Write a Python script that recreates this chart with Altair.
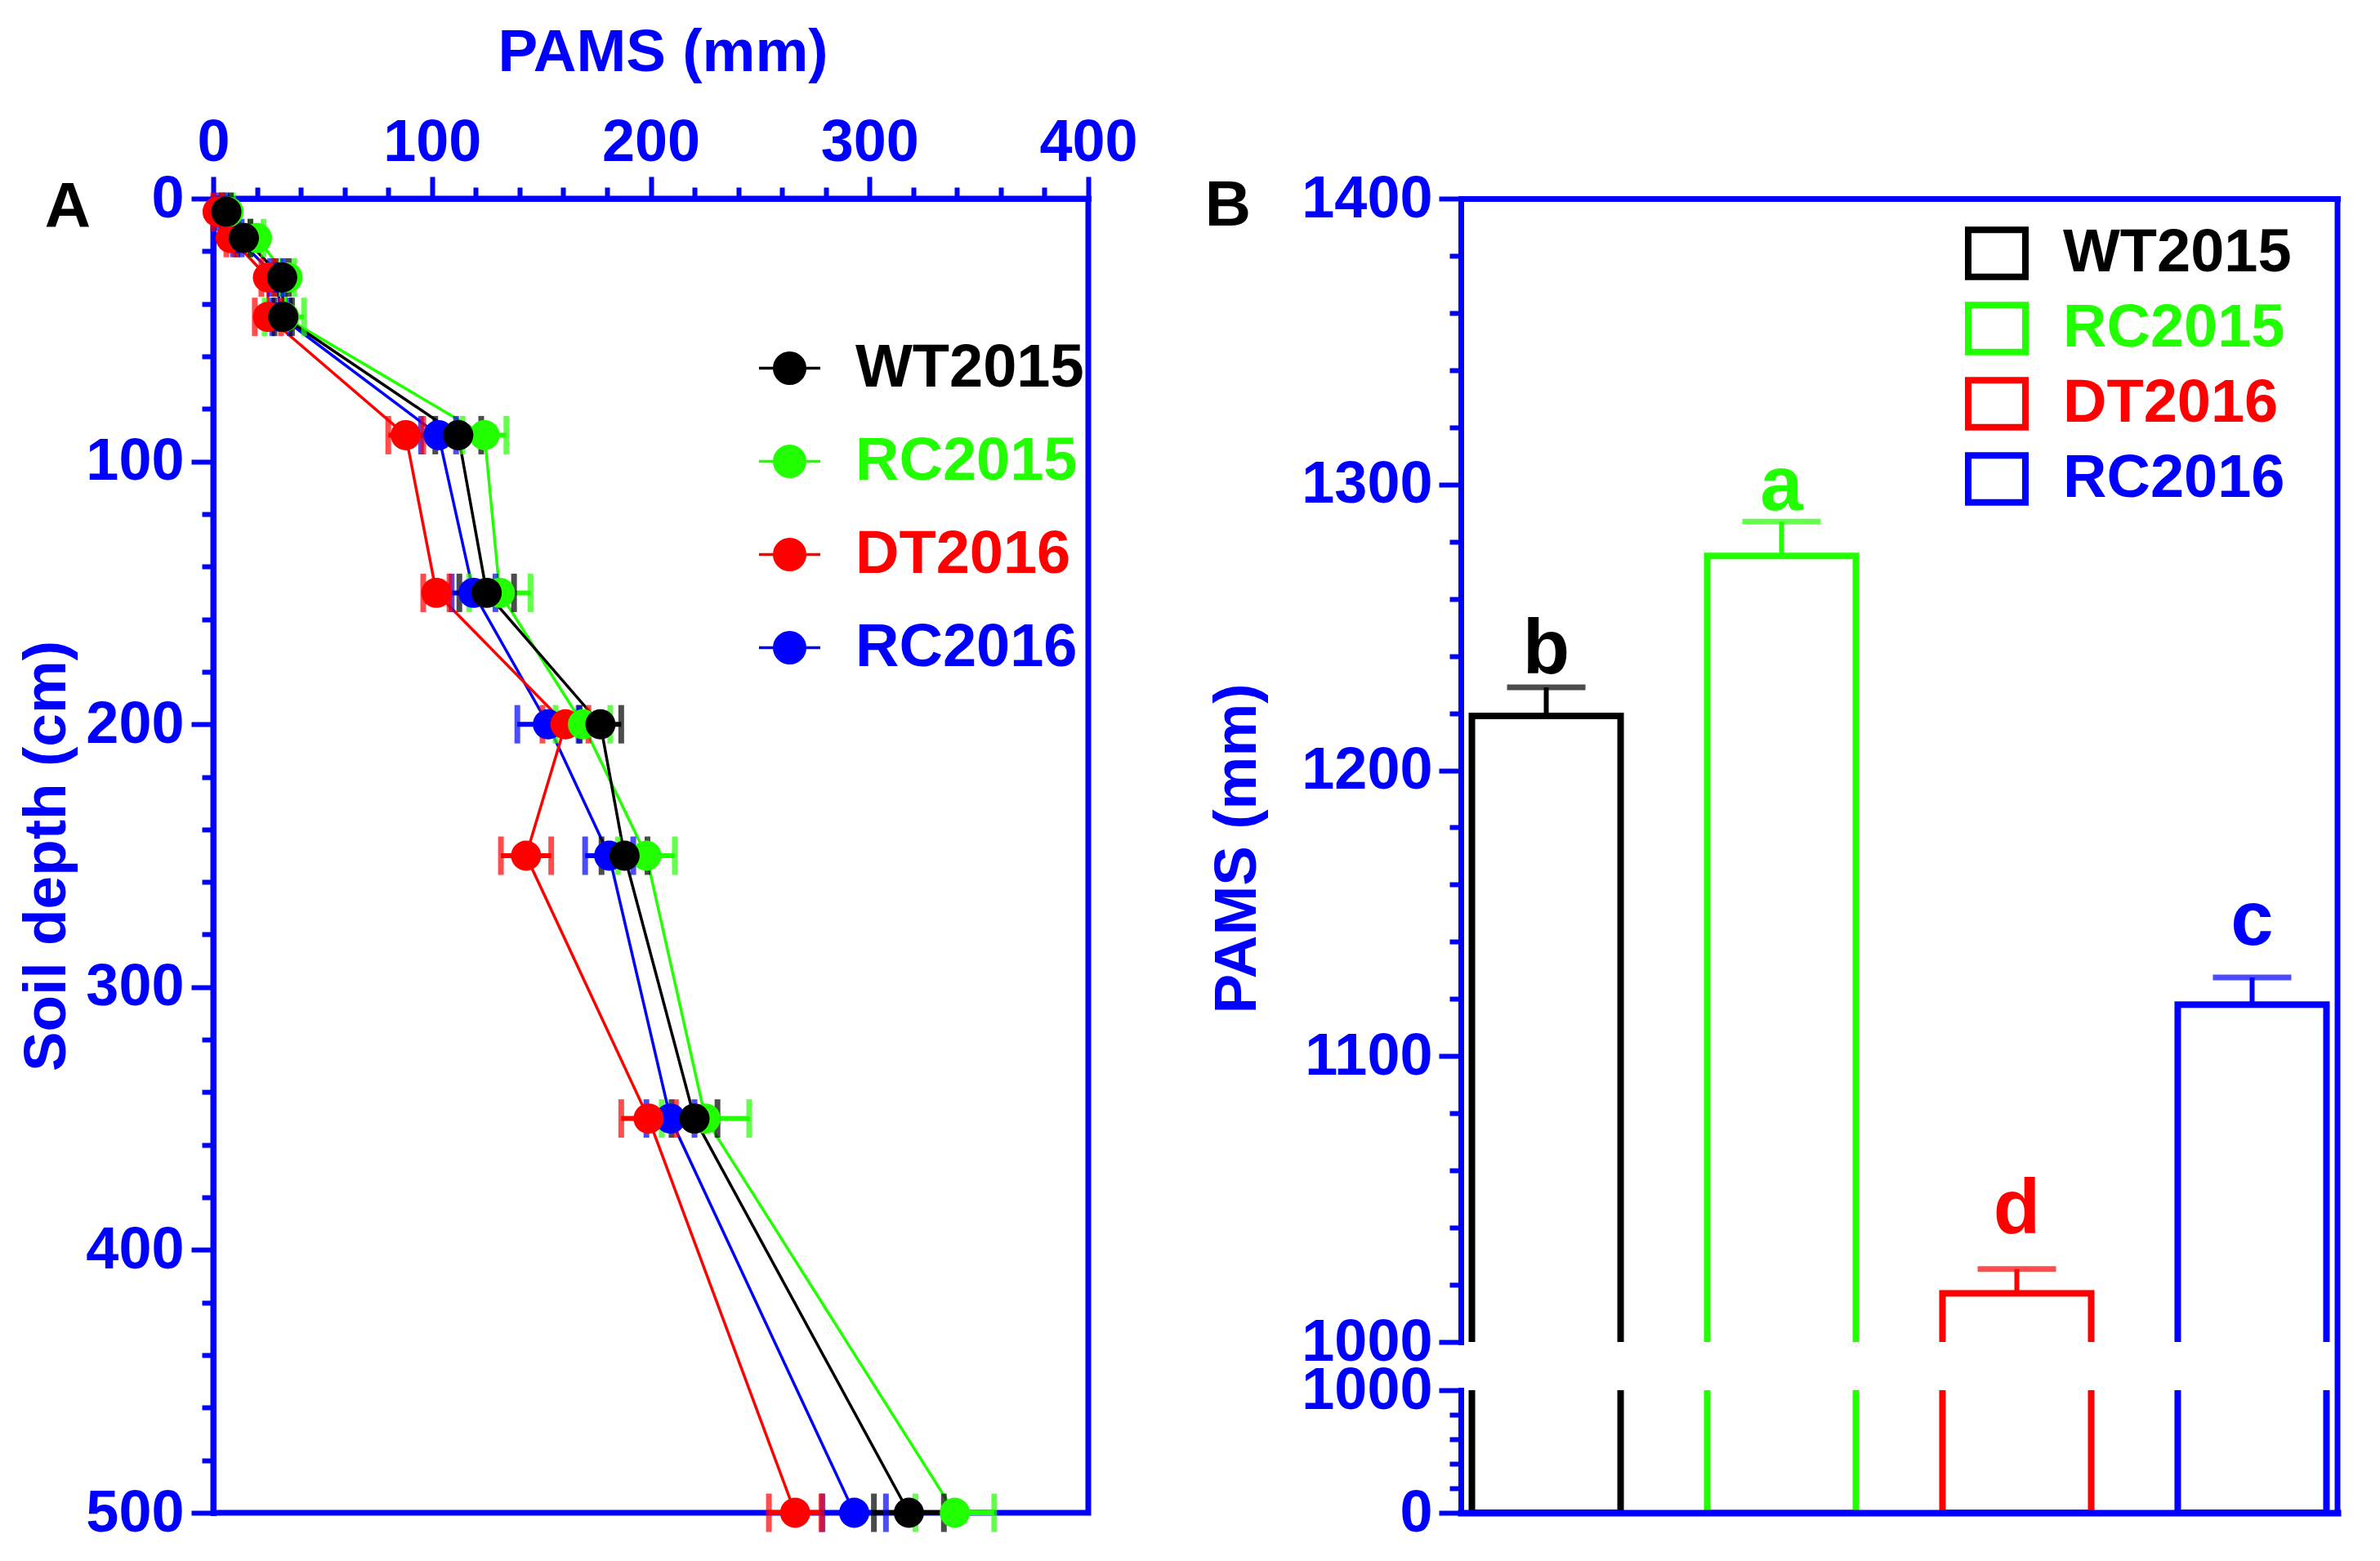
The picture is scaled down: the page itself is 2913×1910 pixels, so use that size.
import altair as alt
import pandas as pd

# ---------------- data ----------------
series = ["WT2015", "RC2015", "DT2016", "RC2016"]
colors = ["#000000", "#22FF00", "#FF0000", "#0000FF"]

depth = [5, 15, 30, 45, 90, 150, 200, 250, 350, 500]
wt2015 = [6, 14, 31.5, 32, 112, 125, 177, 188, 220, 318]
wt2015_err = [2, 3, 3, 4, 10.5, 12.5, 9.5, 10.5, 10.5, 16]
rc2015 = [7, 20, 34, 32.5, 124, 131, 169, 198, 225, 339]
rc2015_err = [2, 3, 3, 9, 10, 14, 12.5, 13, 20, 18]
dt2016 = [2, 8, 25, 25, 88, 102, 161, 143, 199, 266]
dt2016_err = [2, 2, 3, 6, 8, 6, 10.5, 11.5, 12.5, 12]
rc2016 = [4, 11, 29, 31, 103, 119, 153, 181, 209, 293]
rc2016_err = [2, 2, 3, 4, 8, 10, 14, 11, 11, 14.5]

bar_mean = [1219, 1275, 1017, 1118]
bar_err = [10, 12, 8.5, 9.5]
bar_letters = ["b", "a", "d", "c"]
letter_y = [1234, 1291, 1038, 1139]

panel_labels = ["A", "B"]

# broken axis of panel B
upper_domain = [1000, 1400]
lower_domain = [0, 1000]

# ---------------- style ----------------
BLUE = "#0000FF"
FONT = "Liberation Sans"

# ---------------- tables ----------------
profiles = {
    "WT2015": (wt2015, wt2015_err),
    "RC2015": (rc2015, rc2015_err),
    "DT2016": (dt2016, dt2016_err),
    "RC2016": (rc2016, rc2016_err),
}
draw_order = ["RC2016", "DT2016", "RC2015", "WT2015"]
rows = []
for name in draw_order:
    vals, errs = profiles[name]
    for d, v, e in zip(depth, vals, errs):
        rows.append({"series": name, "depth": d, "pams": v, "lo": v - e, "hi": v + e})
prof = pd.DataFrame(rows)
caps = prof.melt(id_vars=["series", "depth"], value_vars=["lo", "hi"], value_name="cap")

bars = pd.DataFrame({
    "series": series,
    "hex": colors,
    "mean": bar_mean,
    "top": [m + e for m, e in zip(bar_mean, bar_err)],
    "letter": bar_letters,
    "letter_y": letter_y,
})

color_expr = "".join(
    f"datum.label === '{s}' ? '{c}' : " for s, c in zip(series[:-1], colors[:-1])
) + f"'{colors[-1]}'"


def cscale():
    return alt.Scale(domain=series, range=colors)


# ---------------- panel A ----------------
WA, HA = 1071, 1608


def cond_size(test):
    return {"condition": {"test": test, "value": 27}, "value": 14}


xA_axis = alt.Axis(
    orient="top", title="PAMS (mm)", values=list(range(0, 401, 20)), format="d",
    labelExpr="datum.value % 100 === 0 ? datum.label : ''",
    tickSize=cond_size("datum.value % 100 === 0"),
    labelPadding=5, titlePadding=37, titleX=550,
    labelFlush=False, labelOverlap=False,
)
yA_axis = alt.Axis(
    orient="left", title="Soil depth (cm)", values=list(range(0, 501, 20)), format="d",
    labelExpr="datum.value % 100 === 0 ? datum.label : ''",
    tickSize=cond_size("datum.value % 100 === 0"),
    labelPadding=9, titlePadding=10,
    labelFlush=False, labelOverlap=False,
)
xA_scale = alt.Scale(domain=[0, 400], nice=False)
yA = alt.Y("depth:Q", scale=alt.Scale(domain=[0, 500], reverse=True, nice=False), axis=yA_axis)

PATH_A = "M-1,0L1,0M-0.5,0A0.5,0.5,0,1,1,0.5,0A0.5,0.5,0,1,1,-0.5,0Z"
legA = alt.Legend(
    title=None, orient="none", legendX=666, legendY=168,
    symbolType=PATH_A, symbolSize=5625, symbolStrokeWidth=3.5, symbolOpacity=1,
    labelColor=alt.ExprRef(color_expr), labelFont=FONT, labelFontSize=74,
    labelFontWeight="bold", labelOffset=41, rowPadding=37, padding=0, labelLimit=600,
)
colA = alt.Color("series:N", scale=cscale(), legend=legA)

baseA = alt.Chart(prof)
linesA = baseA.mark_line(strokeWidth=3.5).encode(
    x=alt.X("pams:Q", scale=xA_scale, axis=xA_axis),
    y=yA,
    color=colA,
    detail="series:N",
    order="depth:Q",
)
errA = baseA.mark_rule(strokeWidth=6).encode(
    x=alt.X("lo:Q", scale=xA_scale, axis=xA_axis),
    x2="hi:Q",
    y=yA,
    color=colA,
)
capsA = alt.Chart(caps).mark_tick(orient="vertical", size=47, thickness=7).encode(
    x=alt.X("cap:Q", scale=xA_scale, axis=xA_axis),
    y=yA,
    color=colA,
)
pointsA = baseA.mark_circle(size=1365, opacity=1).encode(
    x=alt.X("pams:Q", scale=xA_scale, axis=xA_axis),
    y=yA,
    color=colA,
)
labelA = alt.Chart(pd.DataFrame({"label": panel_labels[:1]})).mark_text(
    font=FONT, fontSize=78, fontWeight="bold", color="black", align="center", baseline="alphabetic"
).encode(x=alt.value(-178), y=alt.value(35), text="label:N")

panelA = alt.layer(linesA, errA, capsA, pointsA, labelA).properties(
    width=WA, height=HA, view=alt.ViewBackground(stroke=BLUE, strokeWidth=7)
)

# ---------------- panel B ----------------
WB, HB_UP, HB_LO, GAP = 1073, 1399, 150, 59

xB_scale = alt.Scale(domain=series, paddingInner=0.368, paddingOuter=0.047)
xB_top = alt.X("series:N", scale=xB_scale, sort=series,
               axis=alt.Axis(orient="top", title=None, labels=False, ticks=False))
xB_bot = alt.X("series:N", scale=xB_scale, sort=series,
               axis=alt.Axis(orient="bottom", title=None, labels=False, ticks=False,
                             zindex=1, domainWidth=8))

yB_up_axis = alt.Axis(
    orient="left", title="PAMS (mm)", values=list(range(1000, 1401, 20)), format="d",
    labelExpr="datum.value % 100 === 0 ? datum.label : ''",
    tickSize=cond_size("datum.value % 100 === 0"),
    labelPadding=8, titlePadding=41, titleY=795,
    labelFlush=False, labelOverlap=False,
)
yB_lo_axis = alt.Axis(
    orient="left", title=None, values=list(range(0, 1001, 200)), format="d",
    labelExpr="datum.value % 1000 === 0 ? datum.label : ''",
    tickSize=cond_size("datum.value % 1000 === 0"),
    labelPadding=8, labelFlush=False, labelOverlap=False,
)
yB_up_scale = alt.Scale(domain=upper_domain, nice=False, zero=False)
yB_lo_scale = alt.Scale(domain=lower_domain, nice=False)

PATH_B = "M-1,-0.82L1,-0.82L1,0.82L-1,0.82Z"
legB = alt.Legend(
    title=None, orient="none", legendX=617, legendY=28,
    symbolType=PATH_B, symbolSize=4900, symbolStrokeWidth=8, symbolOpacity=1,
    symbolFillColor="white",
    labelColor=alt.ExprRef(color_expr), labelFont=FONT, labelFontSize=74,
    labelFontWeight="bold", labelOffset=42, rowPadding=2, padding=0, labelLimit=600,
)
colB = alt.Color("series:N", scale=cscale(), legend=legB)
fillB = alt.Fill("hex:N", scale=None)

baseB = alt.Chart(bars)
border = alt.Chart(pd.DataFrame({"k": [0]}))

barsUp = baseB.mark_bar(filled=False, strokeWidth=8, clip=True).encode(
    x=xB_top,
    y=alt.Y("mean:Q", scale=yB_up_scale, axis=yB_up_axis),
    y2=alt.datum(lower_domain[0]),
    color=colB,
)
stemUp = baseB.mark_rule(strokeWidth=6).encode(
    x=xB_top,
    y=alt.Y("mean:Q", scale=yB_up_scale, axis=yB_up_axis),
    y2="top:Q",
    color=colB,
)
capUp = baseB.mark_tick(orient="horizontal", size=96, thickness=7).encode(
    x=xB_top,
    y=alt.Y("top:Q", scale=yB_up_scale, axis=yB_up_axis),
    fill=fillB,
)
lettersUp = baseB.mark_text(
    font=FONT, fontSize=94, fontWeight="bold", align="center", baseline="alphabetic"
).encode(
    x=xB_top,
    y=alt.Y("letter_y:Q", scale=yB_up_scale, axis=yB_up_axis),
    text="letter:N",
    fill=fillB,
)
rightUp = border.mark_rule(color=BLUE, strokeWidth=7).encode(
    x=alt.value(WB), y=alt.value(0), y2=alt.value(HB_UP + GAP)
)
labelB = alt.Chart(pd.DataFrame({"label": panel_labels[1:]})).mark_text(
    font=FONT, fontSize=78, fontWeight="bold", color="black", align="center", baseline="alphabetic"
).encode(x=alt.value(-285), y=alt.value(33), text="label:N")

upperB = alt.layer(barsUp, stemUp, capUp, lettersUp, rightUp, labelB).properties(
    width=WB, height=HB_UP
)

# lower segment of the broken axis: the bar sides continue up through the break (clipped)
barsLo = baseB.mark_bar(filled=False, strokeWidth=8, clip=True).encode(
    x=xB_bot,
    y=alt.datum(upper_domain[1], scale=yB_lo_scale, axis=yB_lo_axis, type="quantitative"),
    y2=alt.datum(lower_domain[0]),
    stroke=alt.Stroke("hex:N", scale=None),
)
rightLo = border.mark_rule(color=BLUE, strokeWidth=7).encode(
    x=alt.value(WB), y=alt.value(0), y2=alt.value(HB_LO)
)
lowerB = alt.layer(barsLo, rightLo).properties(width=WB, height=HB_LO)

panelB = alt.vconcat(upperB, lowerB, spacing=GAP, bounds="flush")

chart = (
    alt.hconcat(panelA, panelB, spacing=456, bounds="flush")
    .resolve_scale(color="independent")
    .resolve_legend(color="independent")
    .properties(padding={"left": 10, "top": 16, "right": 20, "bottom": 10})
    .configure_view(strokeWidth=0)
    .configure_axis(
        domainColor=BLUE, domainWidth=7, domainCap="square",
        tickColor=BLUE, tickWidth=6,
        labelColor=BLUE, labelFont=FONT, labelFontSize=72, labelFontWeight="bold",
        labelLimit=400,
        titleColor=BLUE, titleFont=FONT, titleFontSize=73, titleFontWeight="bold",
        grid=False,
    )
)

chart.save("out.html", embed_options={"renderer": "svg", "actions": False})
